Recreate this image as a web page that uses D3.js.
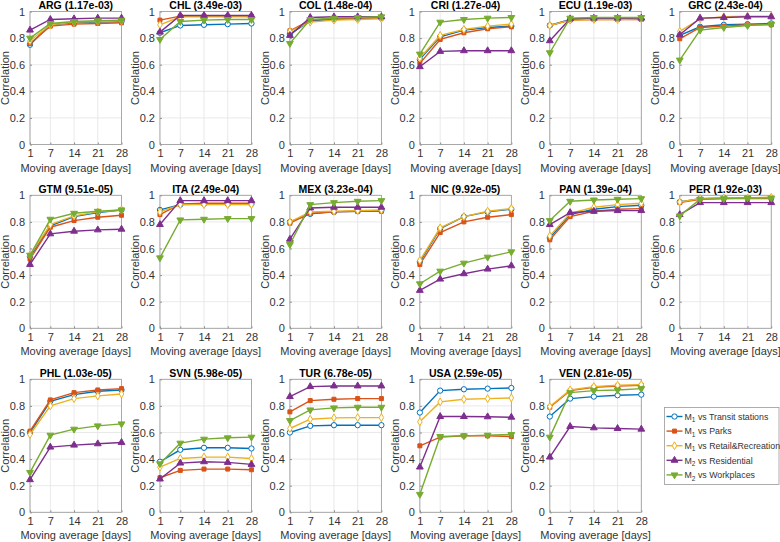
<!DOCTYPE html>
<html><head><meta charset="utf-8">
<script src="https://cdn.jsdelivr.net/npm/d3@7"></script>
<style>
html,body{margin:0;padding:0;background:#fff;}
svg{display:block;font-family:"Liberation Sans",Arial,sans-serif;}
</style></head>
<body><svg id="chart" width="780" height="542"></svg>
<script>
const countries = ["ARG","CHL","COL","CRI","ECU","GRC","GTM","ITA","MEX","NIC","PAN","PER","PHL","SVN","TUR","USA","VEN"];
const pvals = ["1.17e-03","3.49e-03","1.48e-04","1.27e-04","1.19e-03","2.43e-04","9.51e-05","2.49e-04","3.23e-04","9.92e-05","1.39e-04","1.92e-03","1.03e-05","5.98e-05","6.78e-05","2.59e-05","2.81e-05"];
const windows = [1, 7, 14, 21, 28];
const yTicks = [0, 0.2, 0.4, 0.6, 0.8, 1];

const transit = [
  [0.75,0.90,0.915,0.92,0.925],[0.84,0.895,0.90,0.905,0.91],[0.83,0.93,0.94,0.945,0.95],[0.64,0.81,0.86,0.88,0.89],
  [0.895,0.94,0.945,0.945,0.945],[0.82,0.885,0.90,0.905,0.91],[0.54,0.77,0.84,0.87,0.89],[0.89,0.93,0.935,0.935,0.935],
  [0.80,0.86,0.875,0.88,0.885],[0.50,0.75,0.84,0.875,0.895],[0.68,0.855,0.895,0.915,0.925],[0.95,0.975,0.98,0.98,0.98],
  [0.60,0.835,0.885,0.91,0.92],[0.38,0.47,0.485,0.485,0.48],[0.60,0.65,0.655,0.655,0.655],[0.75,0.915,0.925,0.93,0.935],
  [0.72,0.855,0.87,0.88,0.885]];
const parks = [
  [0.76,0.89,0.905,0.91,0.915],[0.935,0.965,0.965,0.965,0.965],[0.855,0.935,0.945,0.95,0.955],[0.61,0.79,0.84,0.87,0.885],
  [0.895,0.935,0.94,0.94,0.94],[0.795,0.88,0.89,0.90,0.90],[0.52,0.76,0.81,0.835,0.85],[0.855,0.935,0.94,0.94,0.94],
  [0.79,0.865,0.875,0.88,0.88],[0.48,0.72,0.80,0.835,0.855],[0.665,0.84,0.88,0.895,0.90],[0.945,0.97,0.975,0.975,0.975],
  [0.61,0.845,0.90,0.92,0.93],[0.26,0.315,0.325,0.325,0.32],[0.755,0.84,0.85,0.855,0.855],[0.50,0.565,0.575,0.575,0.57],
  [0.79,0.915,0.94,0.95,0.955]];
const retail = [
  [0.78,0.90,0.92,0.925,0.93],[0.90,0.96,0.96,0.96,0.96],[0.85,0.92,0.935,0.94,0.945],[0.65,0.82,0.865,0.89,0.905],
  [0.895,0.935,0.94,0.94,0.945],[0.85,0.945,0.96,0.965,0.965],[0.55,0.78,0.845,0.875,0.89],[0.875,0.93,0.93,0.93,0.93],
  [0.80,0.875,0.88,0.885,0.89],[0.51,0.755,0.84,0.88,0.90],[0.695,0.865,0.91,0.93,0.94],[0.95,0.975,0.98,0.98,0.985],
  [0.585,0.80,0.855,0.875,0.89],[0.34,0.405,0.415,0.415,0.405],[0.63,0.70,0.71,0.712,0.712],[0.68,0.83,0.85,0.855,0.86],
  [0.795,0.92,0.945,0.955,0.96]];
const residential = [
  [0.86,0.94,0.945,0.95,0.95],[0.845,0.97,0.97,0.97,0.97],[0.82,0.955,0.96,0.96,0.96],[0.585,0.70,0.705,0.705,0.705],
  [0.78,0.945,0.95,0.95,0.95],[0.825,0.95,0.955,0.96,0.96],[0.48,0.71,0.73,0.74,0.745],[0.78,0.96,0.96,0.96,0.96],
  [0.67,0.905,0.91,0.91,0.91],[0.285,0.37,0.41,0.445,0.47],[0.78,0.87,0.88,0.885,0.885],[0.855,0.945,0.945,0.945,0.945],
  [0.245,0.49,0.505,0.515,0.525],[0.25,0.37,0.38,0.375,0.36],[0.87,0.945,0.95,0.95,0.95],[0.34,0.72,0.72,0.718,0.715],
  [0.415,0.645,0.635,0.63,0.625]];
const workplaces = [
  [0.80,0.91,0.925,0.93,0.935],[0.79,0.925,0.935,0.94,0.94],[0.76,0.94,0.95,0.955,0.96],[0.68,0.92,0.94,0.95,0.955],
  [0.69,0.95,0.955,0.955,0.955],[0.635,0.86,0.88,0.895,0.905],[0.55,0.82,0.865,0.88,0.89],[0.53,0.815,0.82,0.825,0.825],
  [0.63,0.93,0.945,0.955,0.96],[0.335,0.43,0.49,0.535,0.575],[0.81,0.955,0.965,0.97,0.975],[0.845,0.97,0.975,0.98,0.98],
  [0.30,0.58,0.625,0.65,0.665],[0.365,0.52,0.55,0.56,0.565],[0.69,0.77,0.785,0.79,0.79],[0.135,0.57,0.575,0.58,0.585],
  [0.565,0.90,0.915,0.92,0.93]];

const seriesNames = [["M","1"," vs Transit stations"],["M","1"," vs Parks"],["M","1"," vs Retail&Recreation"],["M","2"," vs Residential"],["M","2"," vs Workplaces"]];
const seriesData = [transit, parks, retail, residential, workplaces];
const colors = ["#0072BD","#D95319","#EDB120","#7E2F8E","#77AC30"];
const symbols = [d3.symbolCircle, d3.symbolSquare, d3.symbolDiamond, d3.symbolTriangle, d3.symbolTriangle];
const symSizes = [22, 16, 18, 20, 20];
const symFill = [false, true, false, true, true];
const symRot = [0, 0, 0, 0, 180];

const svg = d3.select("#chart");
const colLeft = i => 30 + i * 129.95;
const rowTop = [11.5, 195.3, 379.3];
const W = 91.5, H = 133;
const textColor = "#333";
const fs = 11;

countries.forEach((c, k) => {
  const col = k % 6, row = Math.floor(k / 6);
  const x0 = colLeft(col), y0 = rowTop[row];
  const x = d3.scaleLinear().domain([1, 28]).range([0, W]);
  const y = d3.scaleLinear().domain([0, 1]).range([H, 0]);
  const g = svg.append("g").attr("transform", `translate(${x0},${y0})`);
  g.append("rect").attr("width", W).attr("height", H).attr("fill", "#fff");
  g.append("g").selectAll("line").data(yTicks).join("line")
    .attr("x1", 0).attr("x2", W).attr("y1", d => y(d)).attr("y2", d => y(d))
    .attr("stroke", "#e3e3e3").attr("stroke-width", 0.8);
  g.append("g").selectAll("line").data(windows).join("line")
    .attr("y1", 0).attr("y2", H).attr("x1", d => x(d)).attr("x2", d => x(d))
    .attr("stroke", "#e3e3e3").attr("stroke-width", 0.8);
  const ya = g.append("g").call(d3.axisLeft(y).tickValues(yTicks).tickSize(-2).tickPadding(5).tickFormat(d => d === 0 || d === 1 ? d3.format("d")(d) : d3.format(".1f")(d)));
  const xa = g.append("g").attr("transform", `translate(0,${H})`).call(d3.axisBottom(x).tickValues(windows).tickSize(-2).tickPadding(5));
  [ya, xa].forEach(a => {
    a.select(".domain").remove();
    a.selectAll("line").attr("stroke", "#8a8a8a");
    a.selectAll("text").attr("font-size", fs).attr("fill", textColor).attr("font-family", '"Liberation Sans",Arial,sans-serif');
  });
  g.append("rect").attr("width", W).attr("height", H).attr("fill", "none").attr("stroke", "#9a9a9a").attr("stroke-width", 0.8);
  seriesData.forEach((sd, s) => {
    const vals = sd[k];
    const pts = windows.map((w, i) => [w, vals[i]]);
    g.append("path").datum(pts)
      .attr("d", d3.line().x(d => x(d[0])).y(d => y(d[1])))
      .attr("fill", "none").attr("stroke", colors[s]).attr("stroke-width", 1.4);
    g.append("g").selectAll("path").data(pts).join("path")
      .attr("transform", d => `translate(${x(d[0])},${y(d[1])}) rotate(${symRot[s]})`)
      .attr("d", d3.symbol().type(symbols[s]).size(symSizes[s]))
      .attr("fill", symFill[s] ? colors[s] : "#fff").attr("stroke", colors[s]).attr("stroke-width", 1);
  });
  g.append("text").attr("x", W / 2).attr("y", -2.5).attr("text-anchor", "middle")
    .attr("font-size", 10.5).attr("font-weight", "bold").attr("fill", "#000").text(`${c} (${pvals[k]})`);
  g.append("text").attr("x", W / 2).attr("y", H + 27).attr("text-anchor", "middle")
    .attr("font-size", fs).attr("fill", textColor).text("Moving average [days]");
  g.append("text").attr("transform", `translate(-21,${H / 2}) rotate(-90)`).attr("text-anchor", "middle")
    .attr("font-size", fs).attr("fill", textColor).text("Correlation");
});

const lg = svg.append("g").attr("transform", "translate(664.5,407.5)");
lg.append("rect").attr("width", 114.5).attr("height", 77).attr("fill", "#fff").attr("stroke", "#9a9a9a").attr("stroke-width", 0.8);
seriesNames.forEach((n, s) => {
  const yy = 9 + s * 14.6;
  lg.append("line").attr("x1", 2).attr("x2", 18).attr("y1", yy).attr("y2", yy).attr("stroke", colors[s]).attr("stroke-width", 1.4);
  lg.append("path").attr("transform", `translate(10,${yy}) rotate(${symRot[s]})`)
    .attr("d", d3.symbol().type(symbols[s]).size(symSizes[s]))
    .attr("fill", symFill[s] ? colors[s] : "#fff").attr("stroke", colors[s]).attr("stroke-width", 1);
  const t = lg.append("text").attr("x", 20).attr("y", yy + 3.2).attr("font-size", 8.8).attr("fill", textColor);
  t.append("tspan").text(n[0]);
  t.append("tspan").attr("font-size", 6.5).attr("dy", 2.5).text(n[1]);
  t.append("tspan").attr("dy", -2.5).text(n[2]);
});
</script></body></html>
